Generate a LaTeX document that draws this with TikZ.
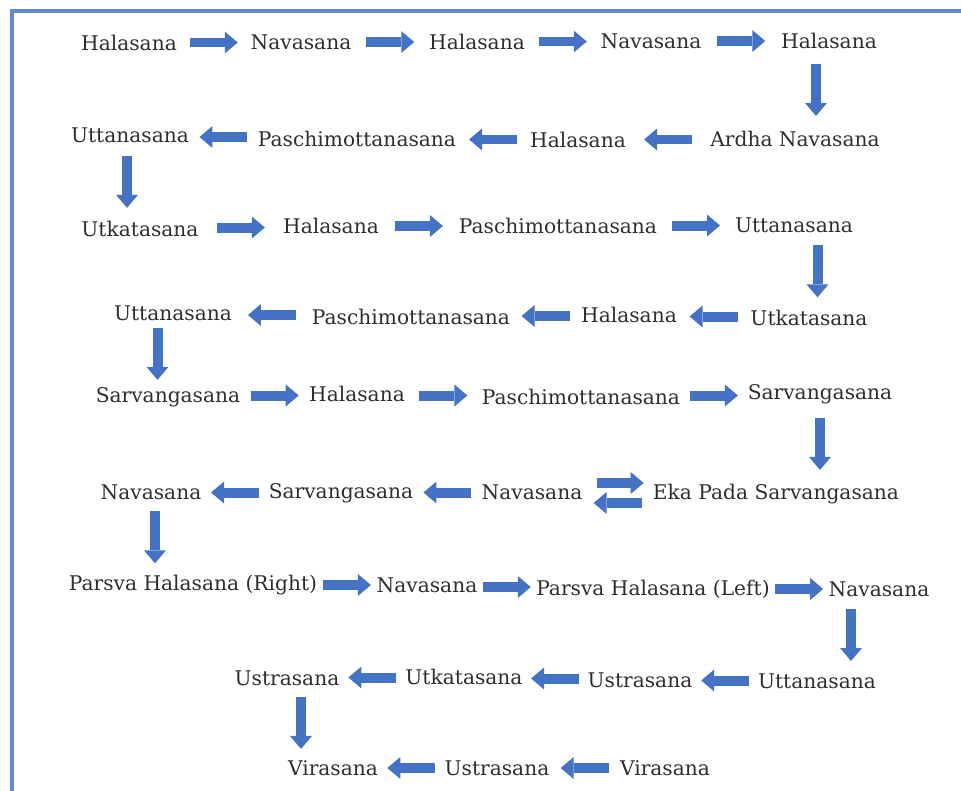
\documentclass[tikz,border=0pt]{standalone}
\usepackage{fontspec}
\setmainfont{DejaVu Serif}
\usetikzlibrary{arrows.meta,calc}
\definecolor{arrowblue}{RGB}{68,114,196}
\definecolor{frameblue}{RGB}{98,140,212}
\tikzset{
  asana/.style={text=black!82,font=\fontsize{11.5}{13}\selectfont,inner sep=1pt},
  blockarrow/.style={draw=arrowblue,line width=0.2cm,
    -{Triangle[length=0.26cm,width=0.44cm,line width=0pt]}},
}

\begin{document}
\begin{tikzpicture}[x=0.02cm,y=-0.02cm]
  \useasboundingbox (0,0) rectangle (961,791);
  \draw[frameblue,line width=0.08cm] (12,791) -- (12,11) -- (961,11);

  % row 1
  \node[asana] (r1a) at (129,43) {Halasana};
  \node[asana] (r1b) at (301,42) {Navasana};
  \node[asana] (r1c) at (477,42) {Halasana};
  \node[asana] (r1d) at (651,41) {Navasana};
  \node[asana] (r1e) at (829,41) {Halasana};
  % row 2
  \node[asana] (r2a) at (130,135) {Uttanasana};
  \node[asana] (r2b) at (357,139) {Paschimottanasana};
  \node[asana] (r2c) at (578,140) {Halasana};
  \node[asana] (r2d) at (795,139) {Ardha Navasana};
  % row 3
  \node[asana] (r3a) at (140,229) {Utkatasana};
  \node[asana] (r3b) at (331,226) {Halasana};
  \node[asana] (r3c) at (558,226) {Paschimottanasana};
  \node[asana] (r3d) at (794,225) {Uttanasana};
  % row 4
  \node[asana] (r4a) at (173,313) {Uttanasana};
  \node[asana] (r4b) at (411,317) {Paschimottanasana};
  \node[asana] (r4c) at (629,315) {Halasana};
  \node[asana] (r4d) at (809,318) {Utkatasana};
  % row 5
  \node[asana] (r5a) at (168,397) {Sarvangasana};
  \node[asana] (r5b) at (357,394) {Halasana};
  \node[asana] (r5c) at (581,397) {Paschimottanasana};
  \node[asana] (r5d) at (820,394) {Sarvangasana};
  % row 6
  \node[asana] (r6a) at (151,492) {Navasana};
  \node[asana] (r6b) at (341,493) {Sarvangasana};
  \node[asana] (r6c) at (532,492) {Navasana};
  \node[asana] (r6d) at (776,494) {Eka Pada Sarvangasana};
  % row 7
  \node[asana] (r7a) at (193,585) {Parsva Halasana (Right)};
  \node[asana] (r7b) at (427,585) {Navasana};
  \node[asana] (r7c) at (653,589) {Parsva Halasana (Left)};
  \node[asana] (r7d) at (879,589) {Navasana};
  % row 8
  \node[asana] (r8a) at (287,678) {Ustrasana};
  \node[asana] (r8b) at (464,677) {Utkatasana};
  \node[asana] (r8c) at (640,680) {Ustrasana};
  \node[asana] (r8d) at (817,681) {Uttanasana};
  % row 9
  \node[asana] (r9a) at (333,768) {Virasana};
  \node[asana] (r9b) at (497,768) {Ustrasana};
  \node[asana] (r9c) at (665,768) {Virasana};

  % left to right
  \draw[blockarrow] ($(r1a.east)!.5!(r1b.west)$) ++(-24,0) -- ++(48,0);
  \draw[blockarrow] ($(r1b.east)!.5!(r1c.west)$) ++(-24,0) -- ++(48,0);
  \draw[blockarrow] ($(r1c.east)!.5!(r1d.west)$) ++(-24,0) -- ++(48,0);
  \draw[blockarrow] ($(r1d.east)!.5!(r1e.west)$) ++(-24,0) -- ++(48,0);
  \draw[blockarrow] ($(r3a.east)!.5!(r3b.west)$) ++(-24,0) -- ++(48,0);
  \draw[blockarrow] ($(r3b.east)!.5!(r3c.west)$) ++(-24,0) -- ++(48,0);
  \draw[blockarrow] ($(r3c.east)!.5!(r3d.west)$) ++(-24,0) -- ++(48,0);
  \draw[blockarrow] ($(r5a.east)!.5!(r5b.west)$) ++(-24,0) -- ++(48,0);
  \draw[blockarrow] ($(r5b.east)!.5!(r5c.west)$) ++(-24,0) -- ++(48,0);
  \draw[blockarrow] ($(r5c.east)!.5!(r5d.west)$) ++(-24,0) -- ++(48,0);
  \draw[blockarrow] ($(r7a.east)!.5!(r7b.west)$) ++(-24,0) -- ++(48,0);
  \draw[blockarrow] ($(r7b.east)!.5!(r7c.west)$) ++(-24,0) -- ++(48,0);
  \draw[blockarrow] ($(r7c.east)!.5!(r7d.west)$) ++(-24,0) -- ++(48,0);
  % right to left
  \draw[blockarrow] ($(r2d.west)!.5!(r2c.east)$) ++(24,0) -- ++(-48,0);
  \draw[blockarrow] ($(r2c.west)!.5!(r2b.east)$) ++(24,0) -- ++(-48,0);
  \draw[blockarrow] ($(r2b.west)!.5!(r2a.east)$) ++(24,0) -- ++(-48,0);
  \draw[blockarrow] ($(r4d.west)!.5!(r4c.east)$) ++(24,0) -- ++(-48,0);
  \draw[blockarrow] ($(r4c.west)!.5!(r4b.east)$) ++(24,0) -- ++(-48,0);
  \draw[blockarrow] ($(r4b.west)!.5!(r4a.east)$) ++(24,0) -- ++(-48,0);
  \draw[blockarrow] ($(r6c.west)!.5!(r6b.east)$) ++(24,0) -- ++(-48,0);
  \draw[blockarrow] ($(r6b.west)!.5!(r6a.east)$) ++(24,0) -- ++(-48,0);
  \draw[blockarrow] ($(r8d.west)!.5!(r8c.east)$) ++(24,0) -- ++(-48,0);
  \draw[blockarrow] ($(r8c.west)!.5!(r8b.east)$) ++(24,0) -- ++(-48,0);
  \draw[blockarrow] ($(r8b.west)!.5!(r8a.east)$) ++(24,0) -- ++(-48,0);
  \draw[blockarrow] ($(r9c.west)!.5!(r9b.east)$) ++(24,0) -- ++(-48,0);
  \draw[blockarrow] ($(r9b.west)!.5!(r9a.east)$) ++(24,0) -- ++(-48,0);
  % both ways
  \draw[blockarrow] ($(r6c.east)!.5!(r6d.west)$) ++(-21,-10) -- ++(47,0);
  \draw[blockarrow] ($(r6c.east)!.5!(r6d.west)$) ++(24,10) -- ++(-48,0);
  % downwards
  \draw[blockarrow] ($(r1e.south)!.5!(r2d.north)$) ++(4,-26) -- ++(0,52);
  \draw[blockarrow] ($(r2a.south)!.5!(r3a.north)$) ++(-8,-26) -- ++(0,52);
  \draw[blockarrow] ($(r3d.south)!.5!(r4d.north)$) ++(16,-26) -- ++(0,52);
  \draw[blockarrow] ($(r4a.south)!.5!(r5a.north)$) ++(-13,-26) -- ++(0,52);
  \draw[blockarrow] ($(r5d.south)!.5!(r6d.north)$) ++(22,-26) -- ++(0,52);
  \draw[blockarrow] ($(r6a.south)!.5!(r7a.north)$) ++(-17,-26) -- ++(0,52);
  \draw[blockarrow] ($(r7d.south)!.5!(r8d.north)$) ++(3,-26) -- ++(0,52);
  \draw[blockarrow] ($(r8a.south)!.5!(r9a.north)$) ++(-9,-26) -- ++(0,52);
\end{tikzpicture}
\end{document}
